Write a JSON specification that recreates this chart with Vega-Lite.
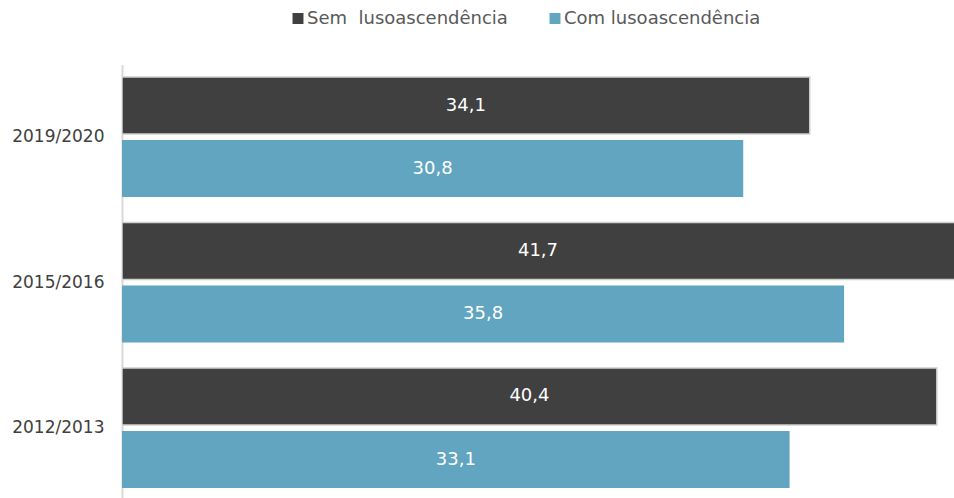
{
  "$schema": "https://vega.github.io/schema/vega-lite/v6.json",
  "autosize": "none",
  "width": 832,
  "height": 433.5,
  "padding": {"left": 122, "top": 64.5, "right": 0, "bottom": 0},
  "background": "white",
  "config": {"view": {"stroke": null}, "font": "DejaVu Sans"},
  "data": {
    "values": [
      {"year": "2019/2020", "series": "Sem\u00a0 lusoascendência", "value": 34.1, "label": "34,1"},
      {"year": "2019/2020", "series": "Com lusoascendência", "value": 30.8, "label": "30,8"},
      {"year": "2015/2016", "series": "Sem\u00a0 lusoascendência", "value": 41.7, "label": "41,7"},
      {"year": "2015/2016", "series": "Com lusoascendência", "value": 35.8, "label": "35,8"},
      {"year": "2012/2013", "series": "Sem\u00a0 lusoascendência", "value": 40.4, "label": "40,4"},
      {"year": "2012/2013", "series": "Com lusoascendência", "value": 33.1, "label": "33,1"}
    ]
  },
  "transform": [{"calculate": "min(datum.value, 41.25) / 2", "as": "mid"}],
  "encoding": {
    "y": {
      "field": "year", "type": "nominal",
      "sort": ["2019/2020", "2015/2016", "2012/2013"],
      "scale": {"paddingInner": 0.175, "paddingOuter": 0.0773, "align": 0.556},
      "axis": {
        "title": null, "ticks": false, "domainColor": "#d9d9d9", "domainWidth": 2,
        "labelFontSize": 17, "labelColor": "#404040", "labelPadding": 18, "labelFont": "DejaVu Sans"
      }
    },
    "yOffset": {
      "field": "series", "type": "nominal",
      "sort": ["Sem\u00a0 lusoascendência", "Com lusoascendência"],
      "scale": {"paddingInner": 0.095, "paddingOuter": 0}
    }
  },
  "layer": [
    {
      "mark": {"type": "bar", "clip": true, "strokeWidth": 1.5},
      "encoding": {
        "x": {"field": "value", "type": "quantitative", "scale": {"domain": [0, 41.25], "nice": false, "zero": true}, "axis": null},
        "color": {
          "field": "series", "type": "nominal",
          "sort": ["Sem\u00a0 lusoascendência", "Com lusoascendência"],
          "scale": {"domain": ["Sem\u00a0 lusoascendência", "Com lusoascendência"], "range": ["#404040", "#62a5c0"]},
          "legend": {
            "title": null, "orient": "none", "direction": "horizontal",
            "legendX": 167, "legendY": -55,
            "symbolType": "square", "symbolSize": 120, "symbolStrokeWidth": 0, "symbolOpacity": 1,
            "labelFontSize": 18, "labelColor": "#595959", "labelOffset": 0, "labelLimit": 400, "columnPadding": 38
          }
        },
        "stroke": {
          "field": "series", "type": "nominal",
          "scale": {"domain": ["Sem\u00a0 lusoascendência", "Com lusoascendência"], "range": ["#d0d0d0", "transparent"]},
          "legend": null
        }
      }
    },
    {
      "mark": {"type": "text", "color": "white", "fontSize": 18, "align": "center", "baseline": "middle"},
      "encoding": {
        "x": {"field": "mid", "type": "quantitative"},
        "text": {"field": "label"}
      }
    }
  ]
}
